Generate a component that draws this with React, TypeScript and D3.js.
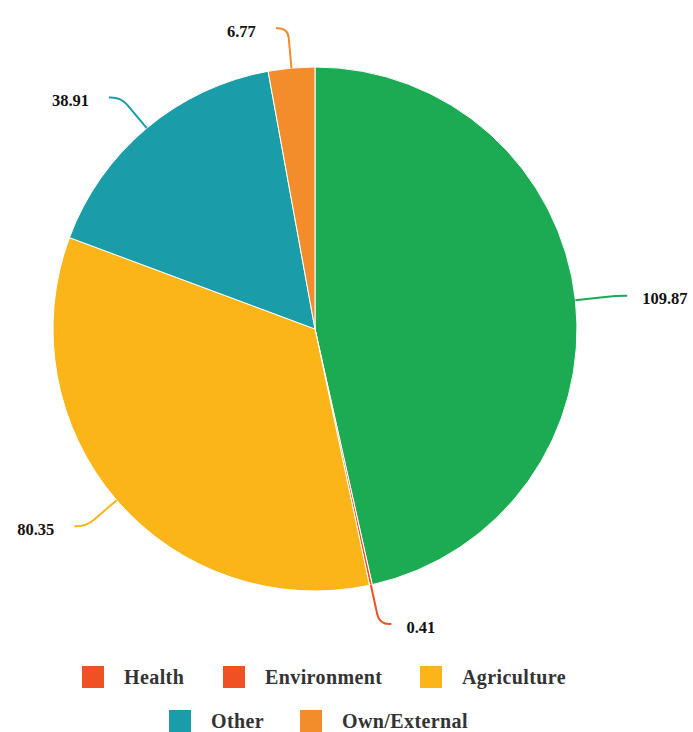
import React from "react";
import * as d3 from "d3";

const categories = ["Health", "Environment", "Agriculture", "Other", "Own/External"];
const values = [109.87, 0.41, 80.35, 38.91, 6.77];
const sliceColors = ["#1cab53", "#f05124", "#fbb519", "#1a9ca9", "#f38d2b"];
const legendColors = ["#f05124", "#f05124", "#fbb519", "#1a9ca9", "#f38d2b"];
const valueLabels = ["109.87", "0.41", "80.35", "38.91", "6.77"];

const W = 693;
const H = 732;
const cx = 315;
const cy = 329;
const R = 262;
const len1 = 40;
const len2 = 12;

export default function App() {
  const pie = d3.pie<number>().sort(null).value((d) => d);
  const arcs = pie(values);
  const arcGen = d3.arc<d3.PieArcDatum<number>>().innerRadius(0).outerRadius(R);

  const legendRows = [
    { y: 677, items: [ { i: 0, x: 82 }, { i: 1, x: 223 }, { i: 2, x: 420 } ] },
    { y: 721, items: [ { i: 3, x: 169 }, { i: 4, x: 300 } ] },
  ];

  return (
    <svg width={W} height={H} style={{ position: "absolute", left: 0, top: 0 }}
      fontFamily="'Liberation Serif', 'DejaVu Serif', serif">
      <rect width={W} height={H} fill="#fff" />
      <g transform={`translate(${cx},${cy})`}>
        {arcs.map((a, i) => (
          <path key={i} d={arcGen(a) || ""} fill={sliceColors[i]} stroke="#fff" strokeWidth={1} />
        ))}
      </g>
      {arcs.map((a, i) => {
        const mid = (a.startAngle + a.endAngle) / 2;
        const dx = Math.sin(mid);
        const dy = -Math.cos(mid);
        const p0 = [cx + R * dx, cy + R * dy];
        const p1 = [p0[0] + len1 * dx, p0[1] + len1 * dy];
        const side = dx >= 0 ? 1 : -1;
        const p2 = [p1[0] + side * len2, p1[1]];
        const k = 10;
        const pre = [p1[0] - k * dx, p1[1] - k * dy];
        const d = `M${p0[0]},${p0[1]} L${pre[0]},${pre[1]} Q${p1[0]},${p1[1]} ${p1[0] + side * Math.min(k, len2)},${p1[1]} L${p2[0]},${p2[1]}`;
        const gap = side > 0 ? 15 : 20;
        return (
          <g key={i}>
            <path d={d} fill="none" stroke={sliceColors[i]} strokeWidth={2} />
            <text x={p2[0] + side * gap} y={p2[1] + 3} textAnchor={side > 0 ? "start" : "end"}
              dominantBaseline="central" fontSize={16.5} fontWeight="bold" fill="#111">
              {valueLabels[i]}
            </text>
          </g>
        );
      })}
      {legendRows.map((row, r) => (
        <g key={r}>
          {row.items.map((it) => (
            <g key={it.i}>
              <rect x={it.x} y={row.y - 11} width={22} height={22} fill={legendColors[it.i]} />
              <text x={it.x + 42} y={row.y} dominantBaseline="central" fontSize={20}
                fontWeight="bold" fill="#333" letterSpacing={0.4}>
                {categories[it.i]}
              </text>
            </g>
          ))}
        </g>
      ))}
    </svg>
  );
}
